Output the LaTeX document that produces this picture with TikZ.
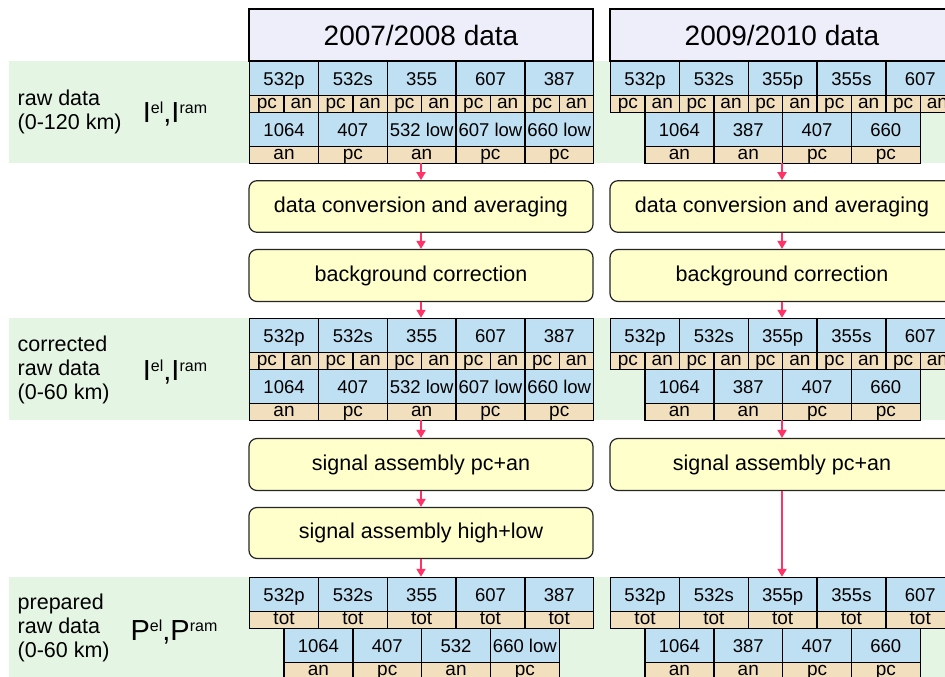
\documentclass[tikz,border=0pt]{standalone}
\usepackage{fontspec}
\setmainfont{Liberation Sans}
\usetikzlibrary{arrows.meta}
\definecolor{cellblue}{HTML}{BFE0F2}
\definecolor{celltan}{HTML}{F2DFBD}
\definecolor{bandgreen}{HTML}{E4F5E4}
\definecolor{headfill}{HTML}{EEEEFB}
\definecolor{procfill}{HTML}{FFFFCC}
\definecolor{arrowred}{HTML}{FF3366}
\newcommand\sups[1]{\raisebox{9pt}{\fontsize{16}{16}\selectfont #1}}
\tikzset{
  cellb/.style={draw, line width=1.3pt, fill=cellblue, minimum width=68.8pt, minimum height=34pt,
    inner sep=0pt, anchor=north west, font=\fontsize{18.5}{18}\selectfont, text height=13pt, text depth=0pt},
  cellt/.style={cellb, fill=celltan, minimum height=17pt, font=\fontsize{19}{18}\selectfont, text height=10pt, text depth=2pt},
  half/.style={cellt, minimum width=34.4pt},
  proc/.style={draw=black!85, line width=1.2pt, fill=procfill, rounded corners=8pt, minimum width=344pt,
    inner sep=0pt, font=\fontsize{21.5}{24}\selectfont},
  head/.style={draw, line width=1.3pt, fill=headfill, minimum width=344pt, minimum height=52pt,
    inner sep=0pt, font=\fontsize{28}{30}\selectfont},
  area/.style={minimum width=344pt, minimum height=102pt, inner sep=0pt},
  lab/.style={anchor=west, align=left, inner sep=0pt, font=\fontsize{21.5}{24}\selectfont},
  sym/.style={inner sep=0pt, font=\fontsize{29}{29}\selectfont, text height=21pt, text depth=0pt},
  conn/.style={draw=arrowred, line width=1.8pt, -{Triangle[length=8pt,width=9pt]}},
}
% first row with pc/an strips: #1 name, #2 x0, #3 top, #4 labels
\newcommand\rowPA[4]{%
  \foreach \lab [count=\i from 0] in {#4} {
    \node[cellb] (#1a\i) at ({#2+\i*68.8}, #3) {\lab};
    \node[half] (#1p\i) at ({#2+\i*68.8}, #3+34) {pc};
    \node[half] (#1n\i) at ({#2+\i*68.8+34.4}, #3+34) {an};
  }}
% first row with tot strips
\newcommand\rowTot[4]{%
  \foreach \lab [count=\i from 0] in {#4} {
    \node[cellb] (#1a\i) at ({#2+\i*68.8}, #3) {\lab};
    \node[cellt] (#1t\i) at ({#2+\i*68.8}, #3+34) {tot};
  }}
% second row: #1 name, #2 x0, #3 top, #4 label/strip list
\newcommand\rowTwo[4]{%
  \foreach \lab/\s [count=\i from 0] in {#4} {
    \node[cellb] (#1b\i) at ({#2+\i*68.8}, #3) {\lab};
    \node[cellt] (#1c\i) at ({#2+\i*68.8}, #3+34) {\s};
  }}
\begin{document}
\begin{tikzpicture}[x=1pt,y=-1pt]
\useasboundingbox (0,0) rectangle (945,677);
\clip (0,0) rectangle (945,677);
\fill[white] (0,0) rectangle (945,677);
% bands
\fill[bandgreen] (9,61) rectangle (960,163);
\fill[bandgreen] (9,318) rectangle (960,420);
\fill[bandgreen] (9,577) rectangle (960,690);
% headers
\node[head] (headL) at (421,35) {2007/2008 data};
\node[head] (headR) at (782,35) {2009/2010 data};
% band labels
\node[lab] (lab1) at (17.5,112) {raw data\\(0-120 km)};
\node[lab] (lab2) at (17.5,370) {corrected\\raw data\\(0-60 km)};
\node[lab] (lab3) at (17.5,628) {prepared\\raw data\\(0-60 km)};
\node[sym] (sym1) at (175,112) {I\sups{el},I\sups{ram}};
\node[sym] (sym2) at (175,370) {I\sups{el},I\sups{ram}};
\node[sym] (sym3) at (174,630) {P\sups{el},P\sups{ram}};
% block areas
\node[area] (B1L) at (421,112) {};
\node[area] (B1R) at (782,112) {};
\node[area] (B2L) at (421,369) {};
\node[area] (B2R) at (782,369) {};
\node[area] (B3L) at (421,628) {};
\node[area] (B3R) at (782,628) {};
% band 1
\rowPA{LA}{249}{61}{532p,532s,355,607,387}
\rowTwo{LA}{249}{112}{1064/an,407/pc,532 low/an,607 low/pc,660 low/pc}
\rowPA{RA}{610}{61}{532p,532s,355p,355s,607}
\rowTwo{RA}{644.4}{112}{1064/an,387/an,407/pc,660/pc}
% band 2
\rowPA{LB}{249}{318}{532p,532s,355,607,387}
\rowTwo{LB}{249}{369}{1064/an,407/pc,532 low/an,607 low/pc,660 low/pc}
\rowPA{RB}{610}{318}{532p,532s,355p,355s,607}
\rowTwo{RB}{644.4}{369}{1064/an,387/an,407/pc,660/pc}
% band 3
\rowTot{LC}{249}{577}{532p,532s,355,607,387}
\rowTwo{LC}{283.4}{628}{1064/an,407/pc,532/an,660 low/pc}
\rowTot{RC}{610}{577}{532p,532s,355p,355s,607}
\rowTwo{RC}{644.4}{628}{1064/an,387/an,407/pc,660/pc}
% process boxes
\node[proc, minimum height=51.6pt] (convL) at (421,206.5) {data conversion and averaging};
\node[proc, minimum height=52pt] (bgL) at (421,275.5) {background correction};
\node[proc, minimum height=52pt] (spL) at (421,464.5) {signal assembly pc+an};
\node[proc, minimum height=51pt] (shL) at (421,533) {signal assembly high+low};
\node[proc, minimum height=51.6pt] (convR) at (782,206.5) {data conversion and averaging};
\node[proc, minimum height=52pt] (bgR) at (782,275.5) {background correction};
\node[proc, minimum height=52pt] (spR) at (782,464.5) {signal assembly pc+an};
% connectors
\draw[conn] (B1L.south) -- (convL.north);
\draw[conn] (convL.south) -- (bgL.north);
\draw[conn] (bgL.south) -- (B2L.north);
\draw[conn] (B2L.south) -- (spL.north);
\draw[conn] (spL.south) -- (shL.north);
\draw[conn] (shL.south) -- (B3L.north);
\draw[conn] (B1R.south) -- (convR.north);
\draw[conn] (convR.south) -- (bgR.north);
\draw[conn] (bgR.south) -- (B2R.north);
\draw[conn] (B2R.south) -- (spR.north);
\draw[conn] (spR.south) -- (B3R.north);
\end{tikzpicture}
\end{document}
